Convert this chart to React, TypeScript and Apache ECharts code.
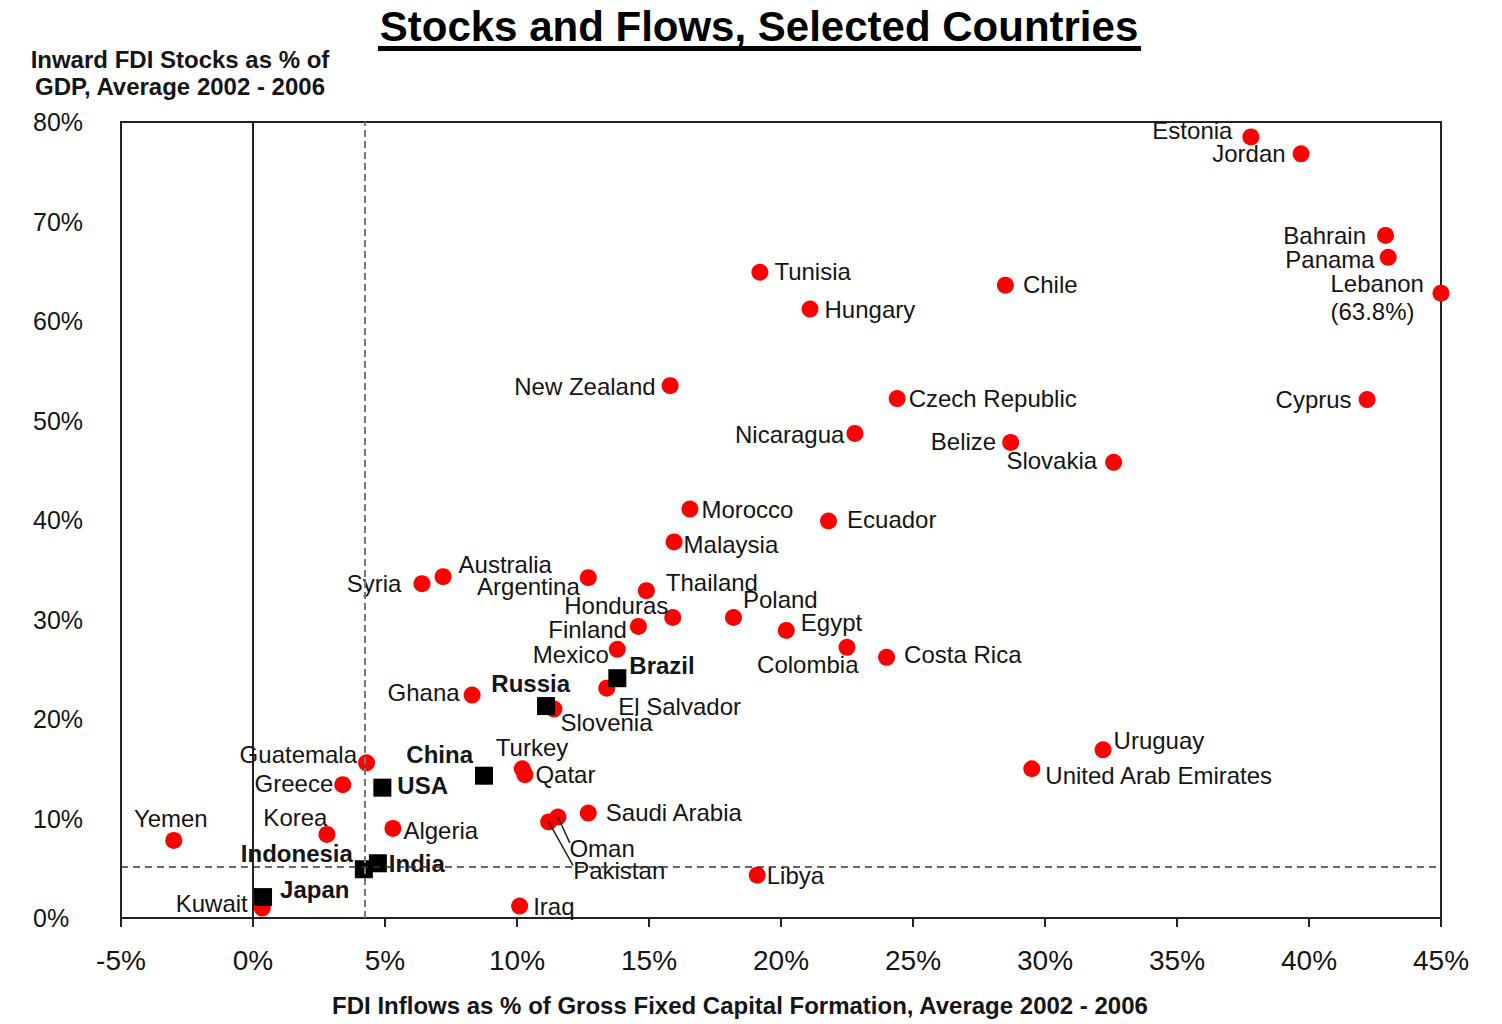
import React, { useEffect, useRef } from "react";
import * as echarts from "echarts";

// ---- Data ----
const redNames = [
  "Estonia", "Jordan", "Bahrain", "Panama", "Lebanon", "Cyprus", "Tunisia", "Chile", "Hungary",
  "New Zealand", "Czech Republic", "Nicaragua", "Belize", "Slovakia", "Morocco", "Ecuador", "Malaysia",
  "Syria", "Australia", "Argentina", "Thailand", "Honduras", "Poland", "Finland", "Egypt", "Colombia",
  "Costa Rica", "Mexico", "El Salvador", "Ghana", "Slovenia", "Guatemala", "Turkey", "Qatar", "Greece",
  "Uruguay", "United Arab Emirates", "Saudi Arabia", "Oman", "Pakistan", "Yemen", "Korea", "Algeria",
  "Libya", "Kuwait", "Iraq",
];
const redX = [
  37.8, 39.7, 42.9, 43.0, 45.0, 42.2, 19.2, 28.5, 21.1,
  15.8, 24.4, 22.8, 28.7, 32.6, 16.55, 21.8, 15.95,
  6.4, 7.2, 12.7, 14.9, 15.9, 18.2, 14.6, 20.2, 22.5,
  24.0, 13.8, 13.4, 8.3, 11.4, 4.3, 10.2, 10.3, 3.4,
  32.2, 29.5, 12.7, 11.55, 11.2, -3.0, 2.8, 5.3,
  19.1, 0.35, 10.1,
];
const redY = [
  78.5, 76.8, 68.6, 66.4, 62.8, 52.1, 64.9, 63.6, 61.2,
  53.5, 52.2, 48.7, 47.8, 45.8, 41.1, 39.9, 37.8,
  33.6, 34.3, 34.2, 32.9, 30.2, 30.2, 29.3, 28.9, 27.2,
  26.2, 27.0, 23.1, 22.4, 21.0, 15.6, 15.0, 14.4, 13.4,
  16.9, 15.0, 10.55, 10.15, 9.65, 7.8, 8.4, 9.0,
  4.3, 1.0, 1.2,
];

const blackNames = ["Brazil", "Russia", "China", "USA", "Indonesia", "India", "Japan"];
const blackX = [13.8, 11.1, 8.75, 4.9, 4.2, 4.73, 0.38];
const blackY = [24.1, 21.3, 14.3, 13.1, 4.9, 5.5, 2.1];

// Lebanon's off-scale x value shown in its label
const labelTextOverride: Record<string, string> = { Lebanon: "Lebanon\n(63.8%)" };

// Reference lines (averages) and leader lines
const refLineX = [0];
const dashedX = 4.24;
const dashedY = 5.2;
const leaderLines = [
  { from: [11.55, 10.15], to: [12.0, 7.55] },
  { from: [11.2, 9.65], to: [12.12, 5.3] },
];

const xTicks = { min: -5, max: 45, interval: 5 };
const yTicks = { min: 0, max: 80, interval: 10 };

// label placement: side, dx, dy (pixels)
const labelPlace: Record<string, [string, number, number]> = {
  Estonia: ["left", -9, -6],
  Jordan: ["left", -6, 0],
  Bahrain: ["left", -10, 0],
  Panama: ["left", -4, 2],
  Cyprus: ["left", -6, 0],
  Tunisia: ["right", 5, -1],
  Chile: ["right", 8, -1],
  Hungary: ["right", 5, 0],
  "New Zealand": ["left", -5, 1],
  "Czech Republic": ["right", 2, 0],
  Nicaragua: ["left", -1, 1],
  Belize: ["left", -5, -1],
  Slovakia: ["left", -7, -2],
  Morocco: ["right", 2, 0],
  Ecuador: ["right", 9, -1],
  Malaysia: ["right", 0, 3],
  Syria: ["left", -11, 0],
  Australia: ["right", 6, -12],
  Argentina: ["left", 1, 9],
  Thailand: ["right", 10, -8],
  Honduras: ["left", 5, -12],
  Poland: ["right", 0, -18],
  Finland: ["left", -2, 3],
  Egypt: ["right", 5, -8],
  Colombia: ["left", 21, 17],
  "Costa Rica": ["right", 8, -3],
  Mexico: ["left", 1, 5],
  "El Salvador": ["right", 2, 18],
  Ghana: ["left", -3, -3],
  Slovenia: ["right", -3, 13],
  Guatemala: ["left", 0, -8],
  Turkey: ["right", -36, -21],
  Qatar: ["right", 1, 0],
  Greece: ["left", 0, -1],
  Uruguay: ["right", 1, -9],
  "United Arab Emirates": ["right", 4, 7],
  "Saudi Arabia": ["right", 8, -1],
  Oman: ["right", 2, 31],
  Pakistan: ["right", 15, 49],
  Yemen: ["top", -3, 0],
  Korea: ["left", 10, -17],
  Algeria: ["right", 1, 2],
  Libya: ["right", 0, 0],
  Kuwait: ["left", -5, -5],
  Iraq: ["right", 4, 0],
  Brazil: ["right", 2, -13],
  Russia: ["left", 34, -23],
  China: ["left", -1, -21],
  USA: ["right", 5, -2],
  Indonesia: ["left", -1, -16],
  India: ["right", 1, 0],
  Japan: ["right", 7, -8],
};

const FONT = "'Liberation Sans', Arial, sans-serif";
const TEXT = "#151515";

function buildItems(names: string[], xs: number[], ys: number[], bold: boolean) {
  return names.map((n, i) => {
    const p = labelPlace[n] || ["right", 0, 0];
    const label: any = {
      show: true,
      position: p[0],
      distance: 1,
      offset: [p[1], p[2]],
      formatter: labelTextOverride[n] || n,
      fontFamily: FONT,
      fontSize: 24,
      fontWeight: bold ? "bold" : "normal",
      color: TEXT,
    };
    return { name: n, value: [xs[i], ys[i]], label };
  });
}

export default function App() {
  const ref = useRef<HTMLDivElement>(null);
  useEffect(() => {
    if (!ref.current) return;
    const chart = echarts.init(ref.current, undefined, { renderer: "svg" });

    const redItems: any[] = buildItems(redNames, redX, redY, false);
    // Lebanon: left-aligned two-line block to the left of the point
    redItems.forEach((it) => {
      if (it.name === "Lebanon") {
        it.label = {
          ...it.label,
          position: "left",
          align: "left",
          offset: [-101, 4],
          lineHeight: 28,
        };
      }
    });

    const option: any = {
      animation: false,
      backgroundColor: "#ffffff",
      grid: {
        left: 121,
        top: 122,
        right: 61,
        bottom: 106,
        show: true,
        borderColor: "#222",
        borderWidth: 2,
        backgroundColor: "transparent",
      },
      xAxis: {
        type: "value",
        min: xTicks.min,
        max: xTicks.max,
        interval: xTicks.interval,
        splitLine: { show: false },
        axisLine: { show: true, onZero: false, lineStyle: { color: "#222", width: 2 } },
        axisTick: { show: true, length: 9, inside: false, lineStyle: { color: "#222", width: 2 } },
        axisLabel: {
          formatter: "{value}%",
          fontFamily: FONT,
          fontSize: 28,
          color: TEXT,
          margin: 28,
        },
      },
      yAxis: {
        type: "value",
        min: yTicks.min,
        max: yTicks.max,
        interval: yTicks.interval,
        splitLine: { show: false },
        axisLine: { show: true, lineStyle: { color: "#222", width: 2 } },
        axisTick: { show: false },
        axisLabel: {
          formatter: "{value}%",
          fontFamily: FONT,
          fontSize: 25,
          color: TEXT,
          align: "left",
          margin: 88,
        },
      },
      graphic: [
        {
          type: "text",
          style: {
            text: "Stocks and Flows, Selected Countries",
            x: 759,
            y: 26,
            textAlign: "center",
            textVerticalAlign: "middle",
            font: `bold 42px ${FONT}`,
            fill: "#000",
          },
        },
        {
          type: "rect",
          shape: { x: 378, y: 46, width: 763, height: 5 },
          style: { fill: "#000" },
        },
        {
          type: "text",
          style: {
            text: "Inward FDI Stocks as % of\nGDP, Average 2002 - 2006",
            x: 180,
            y: 73,
            textAlign: "center",
            textVerticalAlign: "middle",
            font: `bold 24px ${FONT}`,
            lineHeight: 27,
            fill: TEXT,
          },
        },
        {
          type: "text",
          style: {
            text: "FDI Inflows as % of Gross Fixed Capital Formation, Average 2002 - 2006",
            x: 740,
            y: 1005,
            textAlign: "center",
            textVerticalAlign: "middle",
            font: `bold 24px ${FONT}`,
            fill: TEXT,
          },
        },
      ],
      series: [
        {
          type: "scatter",
          name: "leaders",
          data: [],
          silent: true,
          z: 1,
          markLine: {
            silent: true,
            symbol: "none",
            animation: false,
            label: { show: false },
            data: [
              ...refLineX.map((v) => ({ xAxis: v, lineStyle: { color: "#222", width: 1.5, type: "solid" } })),
              { xAxis: dashedX, lineStyle: { color: "#777", width: 2, type: [7, 4] } },
              { yAxis: dashedY, lineStyle: { color: "#333", width: 1.5, type: [7, 5] } },
              ...leaderLines.map((l) => [
                { coord: l.from, lineStyle: { color: "#222", width: 1.5, type: "solid" } },
                { coord: l.to },
              ]),
            ],
          },
        },
        {
          type: "scatter",
          name: "Other",
          symbol: "circle",
          symbolSize: 17,
          itemStyle: { color: "#ff0000", opacity: 1 },
          data: redItems,
          z: 3,
          clip: false,
        },
        {
          type: "scatter",
          name: "Major",
          symbol: "rect",
          symbolSize: 18,
          itemStyle: { color: "#000", opacity: 1 },
          data: buildItems(blackNames, blackX, blackY, true),
          z: 4,
          clip: false,
        },
      ],
    };
    chart.setOption(option);
    return () => chart.dispose();
  }, []);

  return (
    <div
      ref={ref}
      style={{ position: "absolute", left: 0, top: 0, width: 1502, height: 1024, background: "#fff" }}
    />
  );
}
